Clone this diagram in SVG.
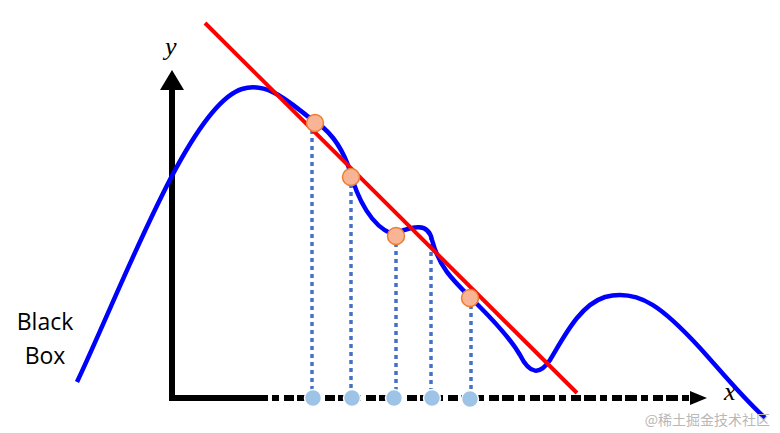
<svg xmlns="http://www.w3.org/2000/svg" width="780" height="433" viewBox="0 0 780 433">
<defs>
<style>
.axis{stroke:#000;stroke-width:6;fill:none}
.drop{stroke:#4472C4;stroke-width:3.5;stroke-dasharray:4,4;fill:none}
.pt{fill:#F8B596;stroke:#ED7D31;stroke-width:1.5}
.foot{fill:#9DC3E6;stroke:#fff;stroke-width:1.5}
.lbl{font-family:"Liberation Serif",serif;font-style:italic;font-size:26px;fill:#000}
.bb{font-family:"Open Sans","Liberation Sans",sans-serif;font-size:23px;fill:#000}
</style>
</defs>
<rect width="780" height="433" fill="#fff"/>
<g id="axes">
<line class="axis" x1="172" y1="401" x2="172" y2="88"/>
<polygon points="160,90 172,70 184,90" fill="#000"/>
<line class="axis" x1="169" y1="398" x2="256" y2="398"/>
<line class="axis" x1="256" y1="398" x2="692" y2="398" stroke-dasharray="12,4,7,5,10,3"/>
<polygon points="690,391 707,398 690,405" fill="#000"/>
<text class="lbl" x="165" y="55">y</text>
<text class="lbl" x="724" y="400" font-size="18">x</text>
</g>
<g id="connectors">
<line class="drop" x1="312" y1="130" x2="312" y2="392"/>
<line class="drop" x1="351" y1="184" x2="351" y2="392"/>
<line class="drop" x1="396" y1="243" x2="396" y2="392"/>
<line class="drop" x1="431" y1="236" x2="431" y2="392"/>
<line class="drop" x1="471" y1="305" x2="471" y2="392"/>
</g>
<g id="curve">
<path d="M77,382 C125,280 190,105 242,89 C268,81 290,103 310,118 C330,130 340,145 348,165 C356,195 370,225 392,234 C410,228 428,220 432,240 C440,270 455,282 478,305 C495,322 510,338 520,355 C530,375 540,375 550,360 C565,335 580,305 605,297 C640,288 665,310 700,348 C720,370 740,395 765,418" fill="none" stroke="#0000FF" stroke-width="4.5"/>
</g>
<g id="fit-line">
<line x1="205" y1="23" x2="577" y2="393" stroke="#FF0000" stroke-width="4"/>
</g>
<g id="samples">
<circle class="pt" cx="315" cy="123" r="8.5"/>
<circle class="pt" cx="351" cy="177" r="8.5"/>
<circle class="pt" cx="396" cy="236" r="8.5"/>
<circle class="pt" cx="470" cy="298" r="8.5"/>
</g>
<g id="feet">
<circle class="foot" cx="313" cy="398" r="8.5"/>
<circle class="foot" cx="352" cy="398" r="8.5"/>
<circle class="foot" cx="394" cy="398" r="8.5"/>
<circle class="foot" cx="432" cy="398" r="8.5"/>
<circle class="foot" cx="470" cy="399" r="8.5"/>
</g>
<g id="black-box">
<text class="bb" x="45" y="330" text-anchor="middle">Black</text>
<text class="bb" x="45" y="364" text-anchor="middle">Box</text>
</g>
<text x="770" y="425" text-anchor="end" font-family="'Noto Sans CJK SC',sans-serif" font-size="14" fill="#B8B8B8">@稀土掘金技术社区</text>
</svg>
